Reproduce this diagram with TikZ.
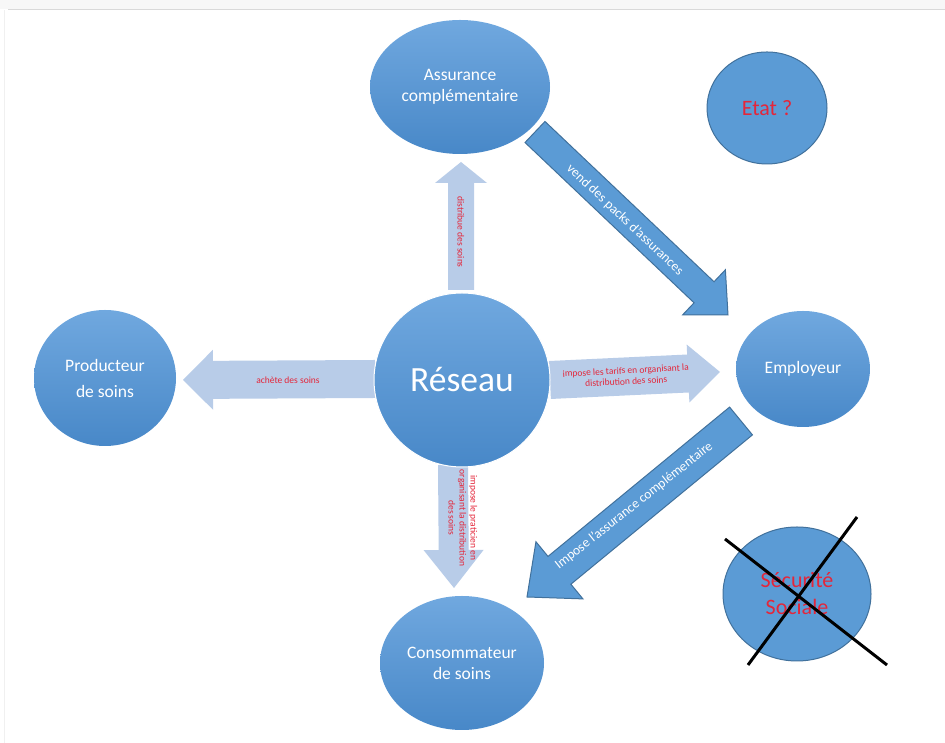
\documentclass[tikz,border=0pt]{standalone}
\usepackage{fontspec}
\setmainfont{Carlito}
\usetikzlibrary{calc,shapes.geometric}
\definecolor{blueA}{RGB}{91,155,213}
\definecolor{blueTop}{RGB}{112,168,223}
\definecolor{blueBot}{RGB}{72,136,200}
\definecolor{blueEdge}{RGB}{65,113,156}
\definecolor{lightArrow}{RGB}{184,204,232}
\definecolor{redTxt}{RGB}{228,38,58}
\newcommand\blockarrow[7]{% #1 style, #2 tail, #3 tip, #4 shaft half width, #5 head half width, #6 head length, #7 prefix
  \coordinate (#7h) at ($(#3)!#6!(#2)$);
  \path[#1] ($(#2)!#4!90:(#3)$) -- ($(#7h)!#4!90:(#3)$) -- ($(#7h)!#5!90:(#3)$) -- (#3)
    -- ($(#7h)!#5!-90:(#3)$) -- ($(#7h)!#4!-90:(#3)$) -- ($(#2)!#4!-90:(#3)$) -- cycle;
}
\tikzset{
  bubble/.style={ellipse, inner sep=0pt, top color=blueTop, bottom color=blueBot, text=white, align=center, font=\fontsize{17.5}{21}\selectfont},
  flatbubble/.style={ellipse, inner sep=0pt, fill=blueA, draw=blueEdge, line width=1pt, text=redTxt, align=center},
  lightarrow/.style={fill=lightArrow},
  darkarrow/.style={fill=blueA, draw=blueEdge, line width=1pt, line join=miter},
  redlabel/.style={text=redTxt, font=\fontsize{9.5}{11}\selectfont, align=center, inner sep=0pt},
  whitelabel/.style={text=white, font=\fontsize{13.5}{16}\selectfont, inner sep=0pt},
  crossline/.style={line width=3pt, black}
}
\begin{document}
\begin{tikzpicture}[x=1pt,y=1pt]
\useasboundingbox (0,0) rectangle (945,743);
\fill[white] (0,0) rectangle (945,743);
\fill[gray!6] (0,734) rectangle (945,743);
\draw[gray!30, line width=0.8pt] (8,734) -- (945,734);
\draw[gray!12, line width=1pt] (4,0) -- (4,733);

% arrow end points
\coordinate (upT) at (461,453);   \coordinate (upH) at (461,581);
\coordinate (leT) at (375,364);   \coordinate (leH) at (183,363);
\coordinate (riT) at (550,363);   \coordinate (riH) at (720,371);
\coordinate (dnT) at (453,278);   \coordinate (dnH) at (454,155);
\coordinate (d1T) at (535,611);   \coordinate (d1H) at (728,428);
\coordinate (d2T) at (741,322);   \coordinate (d2H) at (527,146);

% light arrows
\blockarrow{lightarrow}{upT}{upH}{13pt}{26pt}{21pt}{up}
\blockarrow{lightarrow}{leT}{leH}{19pt}{30pt}{30pt}{le}
\blockarrow{lightarrow}{riT}{riH}{19pt}{29pt}{32pt}{ri}
\blockarrow{lightarrow}{dnT}{dnH}{15pt}{30pt}{38pt}{dn}
% dark arrows
\blockarrow{darkarrow}{d1T}{d1H}{14.5pt}{31pt}{33pt}{da}
\blockarrow{darkarrow}{d2T}{d2H}{18pt}{37pt}{42pt}{db}

% arrow labels
\node[redlabel, rotate=-90] (lblUp) at (461,511) {distribue des soins};
\node[redlabel] (lblLeft) at (288,363) {achète des soins};
\node[redlabel, rotate=3] (lblRight) at (626,367) {impose les tarifs en organisant la\\distribution des soins};
\node[redlabel, rotate=-90] (lblDown) at (463,225) {impose le praticien en\\organisant la distribution\\des soins};
\node[whitelabel, rotate=-43.4] (lblD1) at (625,523) {vend des packs d’assurances};
\node[whitelabel, rotate=38.3] (lblD2) at (634,237) {Impose l’assurance complémentaire};

% bubbles
\node[bubble, minimum width=180pt, minimum height=134pt] (assur) at (460,656) {Assurance\\complémentaire};
\node[flatbubble, minimum width=120pt, minimum height=112pt, font=\fontsize{22}{26}\selectfont] (etat) at (767,635) {Etat ?};
\node[bubble, minimum width=142pt, minimum height=136pt, font=\fontsize{17.5}{26}\selectfont] (prod) at (105,365) {Producteur\\de soins};
\node[bubble, draw=white, line width=1pt, minimum width=176pt, minimum height=174pt, font=\fontsize{35.5}{38}\selectfont] (reseau) at (462,363) {Réseau};
\node[bubble, minimum width=134pt, minimum height=116pt] (empl) at (803,374) {Employeur};
\node[bubble, minimum width=164pt, minimum height=134pt] (conso) at (462,80) {Consommateur\\de soins};
\node[flatbubble, minimum width=148pt, minimum height=134pt, font=\fontsize{22}{27}\selectfont] (secu) at (797,149) {Sécurité\\Sociale};

% cross over Sécurité Sociale
\coordinate (xa1) at (725,204); \coordinate (xa2) at (887,78);
\coordinate (xb1) at (748,78);  \coordinate (xb2) at (857,226);
\draw[crossline] (xa1) -- (xa2);
\draw[crossline] (xb1) -- (xb2);
\end{tikzpicture}
\end{document}
